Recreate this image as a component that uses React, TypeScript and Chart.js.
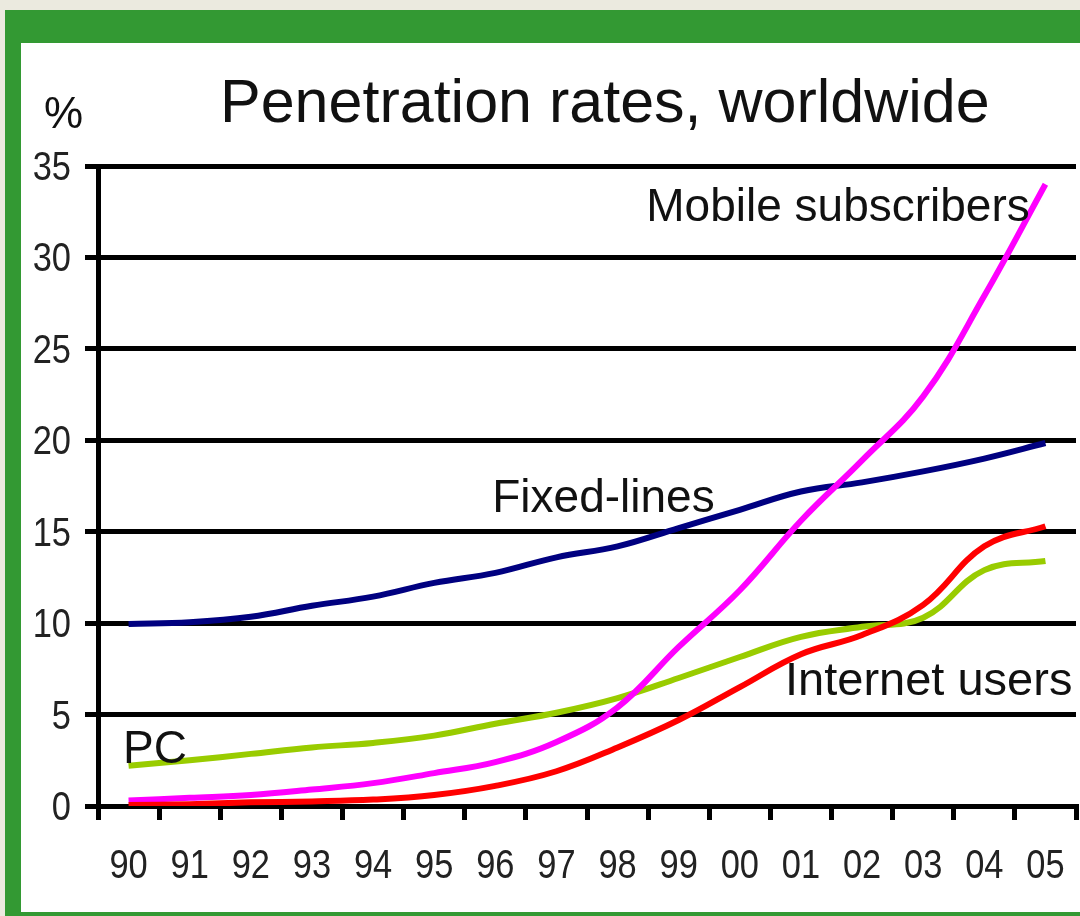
import React, { useEffect, useRef } from 'react';
import { Chart, registerables } from 'chart.js';

Chart.register(...registerables);

// ---- data ----
const years = ['90', '91', '92', '93', '94', '95', '96', '97', '98', '99', '00', '01', '02', '03', '04', '05'];
const internetUsers = [0.05, 0.1, 0.2, 0.25, 0.35, 0.6, 1.1, 1.9, 3.2, 4.7, 6.5, 8.3, 9.35, 11.0, 14.2, 15.3];
const mobileSubscribers = [0.3, 0.45, 0.6, 0.9, 1.25, 1.8, 2.4, 3.5, 5.4, 8.7, 11.8, 15.6, 18.9, 22.4, 27.9, 34.0];
const pc = [2.2, 2.5, 2.85, 3.2, 3.45, 3.85, 4.5, 5.1, 5.9, 7.0, 8.15, 9.25, 9.8, 10.3, 12.9, 13.4];
const fixedLines = [9.95, 10.05, 10.35, 10.95, 11.45, 12.2, 12.75, 13.6, 14.2, 15.2, 16.2, 17.2, 17.7, 18.3, 19.0, 19.85];
const yTicks = [0, 5, 10, 15, 20, 25, 30, 35];

const titleText = 'Penetration rates, worldwide';
const unitText = '%';
const seriesNames = ['Internet users', 'Mobile subscribers', 'PC', 'Fixed-lines'];

// ---- layout / style (kept apart from the data) ----
const colors = ['#ff0000', '#ff00ff', '#99cc00', '#000080'];
// label anchors in axis units: [category index, value] for left/baseline of each series label
const labelAnchors: [number, number][] = [
  [10.74, 6.07],
  [8.47, 32.0],
  [-0.09, 2.35],
  [5.95, 16.08],
];
const labelSizes = [47, 46, 46, 46];
const SANS = "'Liberation Sans', Arial, sans-serif";
const TICK_SQUEEZE = 0.86;

const textPlugin = {
  id: 'textPlugin',
  afterDraw(chart: any) {
    const { ctx, scales } = chart;
    const xs = scales.x;
    const ys = scales.y;
    ctx.save();
    ctx.fillStyle = '#111';
    ctx.textAlign = 'left';
    ctx.textBaseline = 'alphabetic';
    // title and unit
    ctx.font = `61px ${SANS}`;
    ctx.fillText(titleText, 220, 122);
    ctx.font = `44px ${SANS}`;
    ctx.fillText(unitText, 44, 128);
    // series labels
    seriesNames.forEach((name, i) => {
      const [ix, v] = labelAnchors[i];
      ctx.font = `${labelSizes[i]}px ${SANS}`;
      ctx.fillText(name, xs.getPixelForValue(ix), ys.getPixelForValue(v));
    });

    // tick labels (condensed), placed by the library's scales
    ctx.fillStyle = '#222';
    ctx.font = `40px ${SANS}`;
    ctx.textAlign = 'center';
    xs.ticks.forEach((t: any, i: number) => {
      const x = xs.getPixelForTick(i);
      ctx.save();
      ctx.translate(x, xs.top + 72);
      ctx.scale(TICK_SQUEEZE, 1);
      ctx.fillText(String(xs.getLabelForValue(t.value)), 0, 0);
      ctx.restore();
    });
    ctx.textAlign = 'right';
    ys.ticks.forEach((t: any, i: number) => {
      const y = ys.getPixelForTick(i);
      ctx.save();
      ctx.translate(ys.right - 27, y + 14);
      ctx.scale(TICK_SQUEEZE, 1);
      ctx.fillText(String(t.value), 0, 0);
      ctx.restore();
    });
    ctx.restore();
  },
};

export default function App() {
  const ref = useRef<HTMLCanvasElement>(null);

  useEffect(() => {
    const series = [internetUsers, mobileSubscribers, pc, fixedLines];
    const chart = new Chart(ref.current as HTMLCanvasElement, {
      type: 'line',
      data: {
        labels: years,
        datasets: series.map((d, i) => ({
          label: seriesNames[i],
          data: d,
          borderColor: colors[i],
          backgroundColor: colors[i],
          borderWidth: 6,
          pointRadius: 0,
          fill: false,
          tension: 0.4,
        })),
      },
      options: {
        responsive: false,
        animation: false,
        layout: { padding: { top: 166, right: 4, left: 0, bottom: 0 } },
        plugins: {
          legend: { display: false },
          title: { display: false },
          tooltip: { enabled: false },
        },
        scales: {
          x: {
            type: 'category',
            offset: true,
            grid: {
              offset: true,
              drawOnChartArea: false,
              drawTicks: true,
              tickLength: 14,
              color: '#000',
              lineWidth: 5,
            },
            border: { display: true, color: '#000', width: 5 },
            ticks: { display: false, autoSkip: false, maxRotation: 0 },
            afterFit: (s: any) => {
              s.height = 110;
            },
          },
          y: {
            min: 0,
            max: 35,
            afterBuildTicks: (s: any) => {
              s.ticks = yTicks.map((v) => ({ value: v }));
            },
            ticks: { display: false },
            grid: { color: '#000', lineWidth: 5, tickLength: 13 },
            border: { display: true, color: '#000', width: 5 },
            afterFit: (s: any) => {
              s.width = 98;
            },
          },
        },
      },
      plugins: [textPlugin],
    });
    return () => chart.destroy();
  }, []);

  return (
    <div
      style={{
        position: 'fixed',
        left: 0,
        top: 0,
        width: 1080,
        height: 916,
        background: '#ebeadf',
        overflow: 'hidden',
      }}
    >
      <div style={{ position: 'absolute', left: 5, top: 10, right: 0, bottom: 0, background: '#339933' }} />
      <div style={{ position: 'absolute', left: 21, top: 43, right: 0, bottom: 4, background: '#ffffff' }} />
      <canvas
        ref={ref}
        width={1080}
        height={916}
        style={{ position: 'absolute', left: 0, top: 0, width: 1080, height: 916 }}
      />
    </div>
  );
}
